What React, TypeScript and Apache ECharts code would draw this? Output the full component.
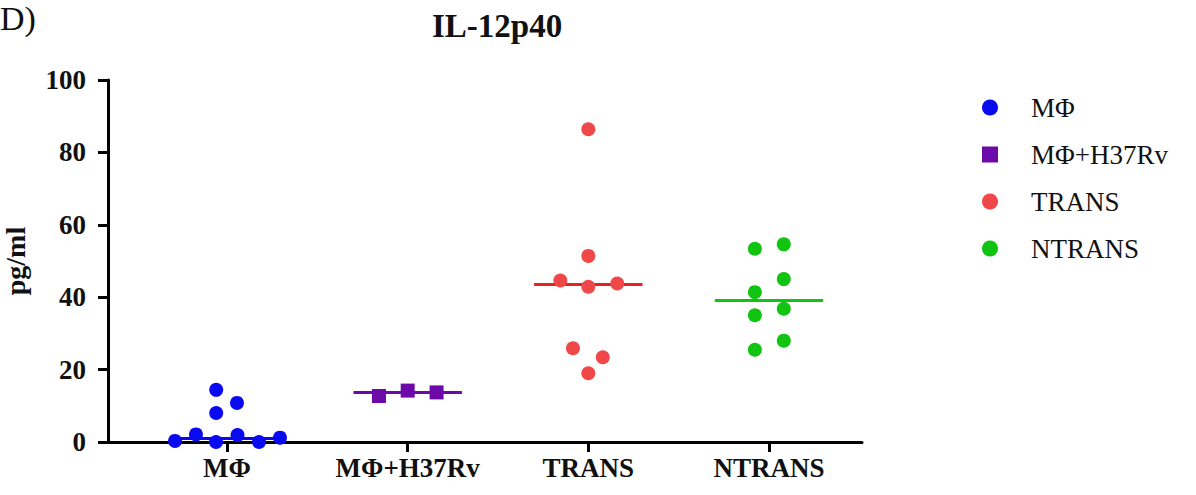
import React, { useEffect, useRef } from "react";
import * as echarts from "echarts";

const categories = ["MΦ", "MΦ+H37Rv", "TRANS", "NTRANS"];
const yTicks = [0, 20, 40, 60, 80, 100];

const mphiX = [0.712, 0.828, 0.939, 1.058, 1.177, 1.293, 0.94, 1.055, 0.94];
const mphiY = [0.3, 2.1, 0, 1.9, 0, 1.2, 14.4, 10.8, 8.0];
const h37X = [1.841, 2.0, 2.16];
const h37Y = [12.7, 14.2, 13.7];
const transX = [3.0, 3.0, 2.845, 3.0, 3.16, 2.915, 3.08, 3.0];
const transY = [86.4, 51.4, 44.6, 42.9, 43.8, 25.9, 23.4, 19.0];
const ntransX = [3.922, 4.082, 3.922, 4.082, 3.922, 4.082, 3.922, 4.082];
const ntransY = [53.4, 54.6, 41.4, 45.0, 35.0, 36.8, 25.5, 28.0];
const medians = [1.1, 13.7, 43.6, 39.1];

const colors = ["#0a0af0", "#6b0aa8", "#f04848", "#12c412"];
const lineColors = ["#0a0af0", "#6b0aa8", "#e82020", "#12c412"];
const symbols = ["circle", "rect", "circle", "circle"];
const xs = [mphiX, h37X, transX, ntransX];
const ys = [mphiY, h37Y, transY, ntransY];

const SERIF = "'Liberation Serif', 'Times New Roman', serif";

export default function App() {
  const ref = useRef<HTMLDivElement>(null);
  useEffect(() => {
    if (!ref.current) return;
    const chart = echarts.init(ref.current, undefined, { renderer: "svg" });
    const half = 0.3;
    const series = categories.map((name, i) => ({
      name,
      type: "scatter",
      symbol: symbols[i],
      symbolSize: 14,
      itemStyle: { color: colors[i], opacity: 1 },
      data: xs[i].map((x, j) => [x, ys[i][j]]),
      z: 3,
      markLine: {
        silent: true,
        symbol: "none",
        z: 2,
        label: { show: false },
        lineStyle: { color: lineColors[i], width: 3, type: "solid" },
        data: [
          [
            { coord: [i + 1 - half, medians[i]] },
            { coord: [i + 1 + half, medians[i]] },
          ],
        ],
      },
    }));
    chart.setOption({
      animation: false,
      backgroundColor: "#ffffff",
      textStyle: { fontFamily: SERIF },
      title: {
        text: "IL-12p40",
        left: 432,
        top: 9,
        padding: 0,
        textStyle: { fontFamily: SERIF, fontWeight: "bold", fontSize: 33, color: "#111" },
      },
      graphic: [
        {
          type: "text",
          left: 0,
          top: 1,
          style: { text: "D)", font: `34px ${SERIF}`, fill: "#111" },
        },
      ],
      legend: {
        orient: "vertical",
        left: 977,
        top: 89,
        itemGap: 20,
        itemWidth: 16,
        itemHeight: 16,
        data: categories,
        textStyle: {
          fontFamily: SERIF,
          fontSize: 27,
          color: "#111",
          padding: [0, 0, 0, 28],
        },
      },
      grid: {
        left: 108,
        top: 80,
        right: 334,
        bottom: 53,
        containLabel: false,
        outerBoundsMode: "none",
      },
      xAxis: {
        type: "value",
        min: 0.341,
        max: 4.515,
        splitLine: { show: false },
        axisLine: { show: true, lineStyle: { color: "#000", width: 3 } },
        axisTick: {
          show: true,
          length: 10,
          lineStyle: { color: "#000", width: 3 },
          customValues: [1, 2, 3, 4],
        },
        axisLabel: {
          customValues: [1, 2, 3, 4],
          formatter: (v: number) => categories[Math.round(v) - 1] ?? "",
          fontFamily: SERIF,
          fontWeight: "bold",
          fontSize: 27,
          color: "#111",
          margin: 12,
        },
      },
      yAxis: {
        type: "value",
        min: yTicks[0],
        max: yTicks[yTicks.length - 1],
        interval: 20,
        name: "pg/ml",
        nameLocation: "middle",
        nameGap: 79,
        nameRotate: 90,
        nameTextStyle: { fontFamily: SERIF, fontWeight: "bold", fontSize: 28, color: "#111" },
        splitLine: { show: false },
        axisLine: { show: true, lineStyle: { color: "#000", width: 3 } },
        axisTick: { show: true, length: 10, lineStyle: { color: "#000", width: 3 } },
        axisLabel: {
          fontFamily: SERIF,
          fontWeight: "bold",
          fontSize: 27,
          color: "#111",
          margin: 22,
        },
      },
      series,
    });
    return () => chart.dispose();
  }, []);
  return (
    <div
      ref={ref}
      style={{ position: "fixed", left: 0, top: 0, width: 1196, height: 495 }}
    />
  );
}
